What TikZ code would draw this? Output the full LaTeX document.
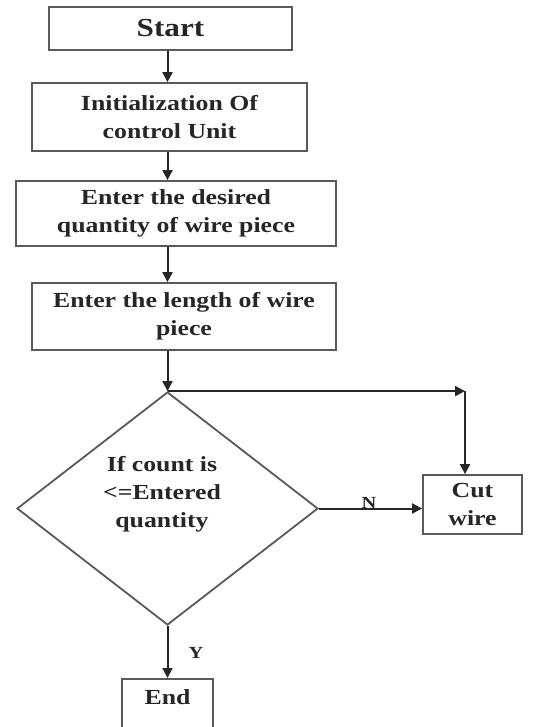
\documentclass[tikz,border=0pt]{standalone}
\usepackage{fontspec}
\setmainfont{Liberation Serif}[FakeStretch=1.2]
\usetikzlibrary{shapes.geometric,arrows.meta}
\begin{document}
\begin{tikzpicture}[x=1pt,y=-1pt,
  box/.style={draw=black!65,line width=1.8pt,inner sep=0pt,align=center,
    font=\fontsize{21.5}{28}\selectfont\bfseries,text=black!85},
  arr/.style={-{Triangle[length=10pt,width=10pt]},line width=2pt,draw=black!85},
  lbl/.style={font=\fontsize{17}{20}\selectfont\bfseries,text=black!85,inner sep=1pt}]
\useasboundingbox (0,0) rectangle (540,727);
\node[box,minimum width=243pt,minimum height=43pt,font=\fontsize{26}{30}\selectfont\bfseries] (start) at (170.5,28.5) {Start};
\node[box,minimum width=275pt,minimum height=68pt] (init) at (169.5,117) {Initialization Of\\control Unit};
\node[box,minimum width=320pt,minimum height=65pt] (desired) at (176,213.5) {Enter the desired\\quantity of wire piece};
\node[box,minimum width=304pt,minimum height=67pt] (length) at (184,316.5) {Enter the length of wire\\piece};
\node[diamond,draw=black!65,line width=1.8pt,minimum width=301pt,minimum height=233pt,inner sep=0pt] (dec) at (167.5,508.5) {};
\node[box,draw=none] (dtext) at (162,494) {If count is\\<=Entered\\quantity};
\node[box,minimum width=99pt,minimum height=59pt] (cut) at (472.5,504.5) {Cut\\wire};
\node[box,anchor=north,minimum width=91pt,text height=26pt,text depth=45pt] (end) at (167.5,678) {End};
\path (dec.north) ++(297.5,0) coordinate (corner);
\draw[arr] (start.south -| dec.north) -- (init.north -| dec.north);
\draw[arr] (init.south -| dec.north) -- (desired.north -| dec.north);
\draw[arr] (desired.south -| dec.north) -- (length.north -| dec.north);
\draw[arr] (length.south -| dec.north) -- (dec.north);
\draw[arr] (dec.north) -- (corner);
\draw[arr] (corner) -- (corner |- cut.north);
\draw[arr] (dec.east) -- (dec.east -| cut.west);
\node[lbl] (nlab) at (369,503) {N};
\draw[arr] (dec.south) -- (end.north);
\node[lbl] (ylab) at (196,653) {Y};
\end{tikzpicture}
\end{document}
